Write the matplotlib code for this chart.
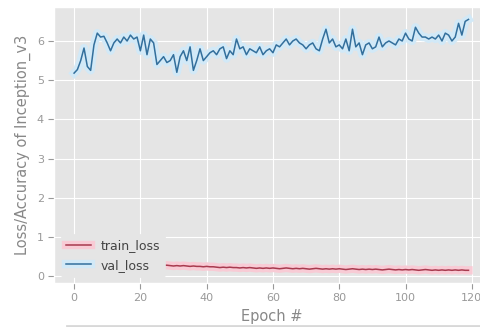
import matplotlib
matplotlib.use("Agg")
import matplotlib.pyplot as plt
import matplotlib.patheffects as pe
import numpy as np

# values
val_loss = [5.18, 5.27, 5.5, 5.82, 5.35, 5.25, 5.9, 6.2, 6.1, 6.12,
            5.95, 5.75, 5.95, 6.05, 5.95, 6.1, 6.0, 6.15, 6.05, 6.1,
            5.75, 6.15, 5.65, 6.05, 5.95, 5.4, 5.5, 5.6, 5.45, 5.5,
            5.65, 5.2, 5.6, 5.75, 5.5, 5.85, 5.25, 5.5, 5.8, 5.5,
            5.6, 5.7, 5.75, 5.65, 5.8, 5.85, 5.55, 5.75, 5.65, 6.05,
            5.8, 5.85, 5.65, 5.8, 5.75, 5.7, 5.85, 5.65, 5.75, 5.8,
            5.7, 5.9, 5.85, 5.95, 6.05, 5.9, 6.0, 6.05, 5.95, 5.9,
            5.8, 5.9, 5.95, 5.8, 5.75, 6.05, 6.3, 5.95, 6.05, 5.85,
            5.9, 5.8, 6.05, 5.75, 6.3, 5.85, 5.95, 5.65, 5.9, 5.95,
            5.8, 5.85, 6.1, 5.85, 5.95, 6.0, 5.95, 5.9, 6.05, 6.0,
            6.2, 6.05, 6.0, 6.35, 6.2, 6.1, 6.1, 6.05, 6.1, 6.05,
            6.15, 6.0, 6.2, 6.15, 6.0, 6.1, 6.45, 6.15, 6.5, 6.55]

train_loss = [0.62, 0.55, 0.5, 0.47, 0.45, 0.43, 0.41, 0.4, 0.39, 0.38,
              0.37, 0.36, 0.35, 0.35, 0.34, 0.33, 0.33, 0.32, 0.32, 0.31,
              0.31, 0.3, 0.3, 0.3, 0.29, 0.29, 0.29, 0.28, 0.28, 0.27,
              0.26, 0.27, 0.26, 0.27, 0.26, 0.25, 0.26, 0.25, 0.25, 0.24,
              0.25, 0.24, 0.24, 0.23, 0.22, 0.23, 0.22, 0.23, 0.22, 0.22,
              0.21, 0.22, 0.21, 0.22, 0.21, 0.2, 0.21, 0.2, 0.21, 0.2,
              0.21, 0.2, 0.19, 0.2, 0.21, 0.2, 0.19, 0.2, 0.19, 0.2,
              0.19, 0.18, 0.19, 0.2, 0.19, 0.18, 0.19, 0.18, 0.19, 0.18,
              0.19, 0.18, 0.17, 0.18, 0.19, 0.18, 0.17, 0.18, 0.17, 0.18,
              0.17, 0.18, 0.17, 0.16, 0.17, 0.18, 0.17, 0.16, 0.17, 0.16,
              0.17, 0.16, 0.17, 0.16, 0.15, 0.16, 0.17, 0.16, 0.15, 0.16,
              0.15, 0.16, 0.15, 0.16, 0.15, 0.16, 0.15, 0.16, 0.15, 0.15]

epochs = np.arange(len(val_loss))

plt.style.use('ggplot')
fig = plt.figure(figsize=(4.81, 3.27), dpi=100)
ax = fig.add_axes([0.113, 0.135, 0.902, 0.844])

ax.plot(epochs, train_loss, color='#a83a4e', lw=1.1, label='train_loss',
        path_effects=[pe.Stroke(linewidth=6, foreground='#f8cbd5'), pe.Normal()])
ax.plot(epochs, val_loss, color='#336f9c', lw=1.1, label='val_loss',
        path_effects=[pe.Stroke(linewidth=6, foreground='#d2e9f7'), pe.Normal()])

ax.set_xticks([0, 20, 40, 60, 80, 100, 120])
ax.set_yticks([0, 1, 2, 3, 4, 5, 6])
ax.tick_params(colors='#999999', labelsize=8, length=4)
ax.set_xlabel('Epoch #', fontsize=10.5, color='#888888', labelpad=4)
ax.set_ylabel('Loss/Accuracy of Inception_v3', fontsize=10.5, color='#888888', labelpad=4)

leg = ax.legend(loc='lower left', fontsize=9, framealpha=1,
                facecolor='#E5E5E5', edgecolor='#E5E5E5')
for t in leg.get_texts():
    t.set_color('#444444')

fig.add_artist(plt.Line2D([0.14, 1.0], [0.004, 0.004], color='#d8d8d8', lw=2))

fig.savefig('out.png', dpi=100)
